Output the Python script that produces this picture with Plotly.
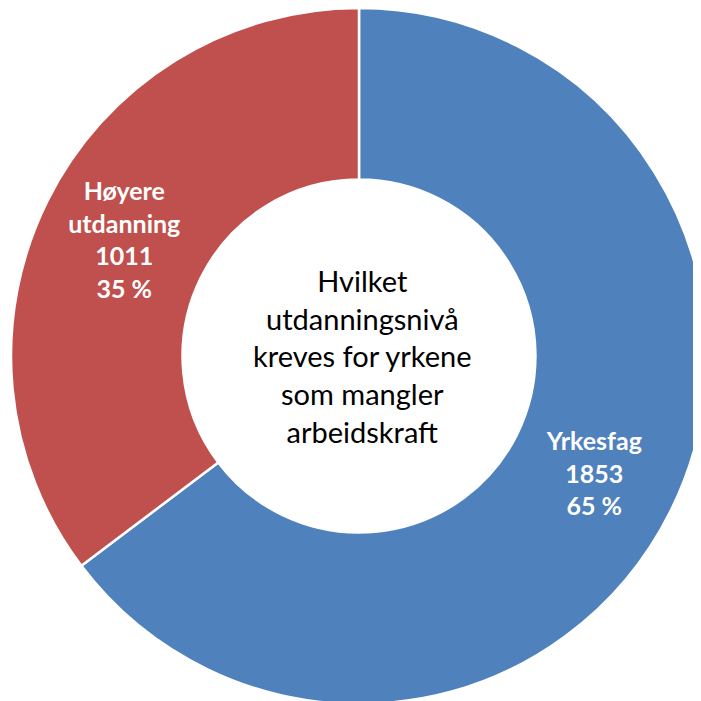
import plotly.graph_objects as go

labels = ["Yrkesfag", "Høyere<br>utdanning"]
values = [1853, 1011]
percents = ["65 %", "35 %"]
colors = ["#4F81BD", "#C0504D"]
center_text = "Hvilket<br>utdanningsnivå<br>kreves for yrkene<br>som mangler<br>arbeidskraft"

# figure slightly larger than the window so the ring can be clipped on the right/bottom
W, H = 720, 720
off = 8  # page body margin
cx, cy, R = 359 - off, 356 - off, 348

fig = go.Figure(go.Pie(
    labels=labels,
    values=values,
    customdata=percents,
    texttemplate="%{label}<br>%{value}<br>%{customdata}",
    textposition="inside",
    insidetextorientation="horizontal",
    textfont=dict(family="Lato", size=25, color="white", weight="bold"),
    marker=dict(colors=colors, line=dict(color="white", width=2.5)),
    hole=0.507,
    sort=False,
    direction="clockwise",
    rotation=0,
    showlegend=False,
    hoverinfo="none",
    domain=dict(x=[(cx - R) / W, (cx + R) / W], y=[(H - cy - R) / H, (H - cy + R) / H]),
))

fig.add_annotation(
    text=center_text, x=(cx + 3) / W, y=(H - cy) / H, xref="paper", yref="paper",
    showarrow=False, font=dict(family="Lato", size=29, color="black"), align="center",
)

fig.update_layout(
    width=W, height=H,
    margin=dict(l=0, r=0, t=0, b=0),
    paper_bgcolor="white",
    plot_bgcolor="white",
)

fig.write_html("out.html")
